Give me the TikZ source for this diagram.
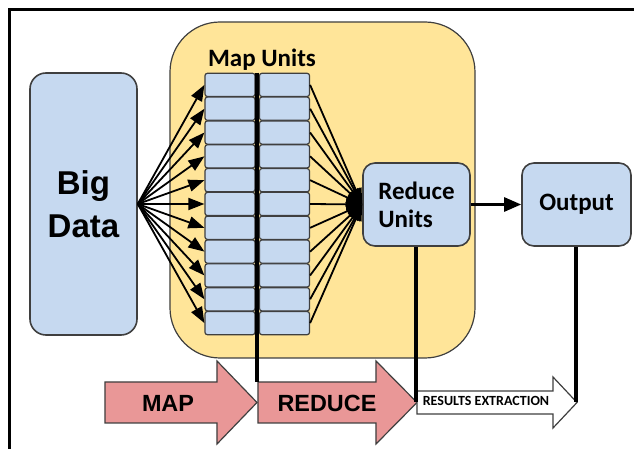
\documentclass[tikz,border=0pt]{standalone}
\usepackage{fontspec}
\setmainfont{Liberation Sans}
\newfontfamily\carlito{Carlito}
\usetikzlibrary{arrows.meta,calc}
\definecolor{cellblue}{HTML}{C6D9F0}
\definecolor{mapyellow}{HTML}{FFE599}
\definecolor{phasepink}{HTML}{E99797}
\definecolor{edgegray}{HTML}{3F3F3F}

\begin{document}
\begin{tikzpicture}[% one unit is one pixel, y grows downwards
		x=0.5pt,y=-0.5pt,
		every node/.style={align=center,inner sep=0pt},
		unit/.style={rectangle,rounded corners=6pt,draw=edgegray,fill=cellblue,thick},
		cell/.style={rectangle,rounded corners=1.2pt,draw=edgegray,fill=cellblue,semithick,minimum width=25pt,minimum height=11.6pt},
		fan/.style={-{Triangle[length=8pt,width=6pt]},line width=0.9pt},
		bar/.style={line width=2pt},
		phase/.style={draw=edgegray,fill=phasepink,semithick},
		calfont/.style={font=\carlito\bfseries\fontsize{12.5}{14}\selectfont}
	]
	\useasboundingbox (0,0) rectangle (634,449);
	% page frame
	\draw[line width=1.5pt] (10,449) -- (10,10) -- (634,10);

	% map area
	\node[rectangle,rounded corners=25pt,draw=edgegray,fill=mapyellow,semithick,minimum width=152.5pt,minimum height=168pt](mapzone) at (322.5,190){};
	\node[calfont](maptitle) at (262,60){Map Units};

	\node[unit,rounded corners=8pt,minimum width=53.5pt,minimum height=131pt,font=\bfseries\fontsize{16.5}{21.5}\selectfont](bigdata) at (83.5,204){Big\\Data};

	% map cells, two per row
	\foreach \i in {0,...,10}{
		\node[cell](L\i) at (230,{84.9+23.82*\i}){};
		\node[cell](R\i) at (284.5,{84.9+23.82*\i}){};
	}

	\node[unit,calfont,align=left,minimum width=53.5pt,minimum height=41.5pt](reduce) at (416.5,204.5){Reduce\\Units};
	\node[unit,calfont,minimum width=54.5pt,minimum height=41.5pt](output) at (576.5,204.5){Output};

	\foreach \i in {0,...,10}{
		\draw[fan] (bigdata.east) -- (L\i.west);
		\draw[fan] (R\i.east) -- (reduce.west);
	}
	\draw[-{Triangle[length=8.5pt,width=7pt]},line width=1.3pt] (reduce) -- (output);

	% phase arrows
	\draw[phase] (105,382) -- (217,382) -- (217,361) -- (257,402.5) -- (217,444) -- (217,423) -- (105,423) -- cycle;
	\node[font=\bfseries\fontsize{11.7}{13}\selectfont](map) at (168,403){MAP};
	\draw[phase] (258,382) -- (376,382) -- (376,361) -- (417,402.5) -- (376,444) -- (376,423) -- (258,423) -- cycle;
	\node[font=\bfseries\fontsize{11.7}{13}\selectfont](reducelbl) at (327,403){REDUCE};
	\draw[draw=edgegray,fill=white,semithick] (417,391) -- (553,391) -- (553,377) -- (577,402.5) -- (553,428) -- (553,414) -- (417,414) -- cycle;
	\node[font=\carlito\bfseries\fontsize{7}{8}\selectfont](results) at (486,401){RESULTS EXTRACTION};

	\coordinate(reducetip) at (417,402.5);
	\coordinate(resultstip) at (577,402.5);

	% phase boundaries
	\draw[bar] ($(L0.north east)!.5!(R0.north west)$) -- ++(0,309);
	\draw[bar] (reduce.south) -- (reduce.south |- reducetip);
	\draw[bar] (output.south) -- (output.south |- resultstip);
\end{tikzpicture}
\end{document}
